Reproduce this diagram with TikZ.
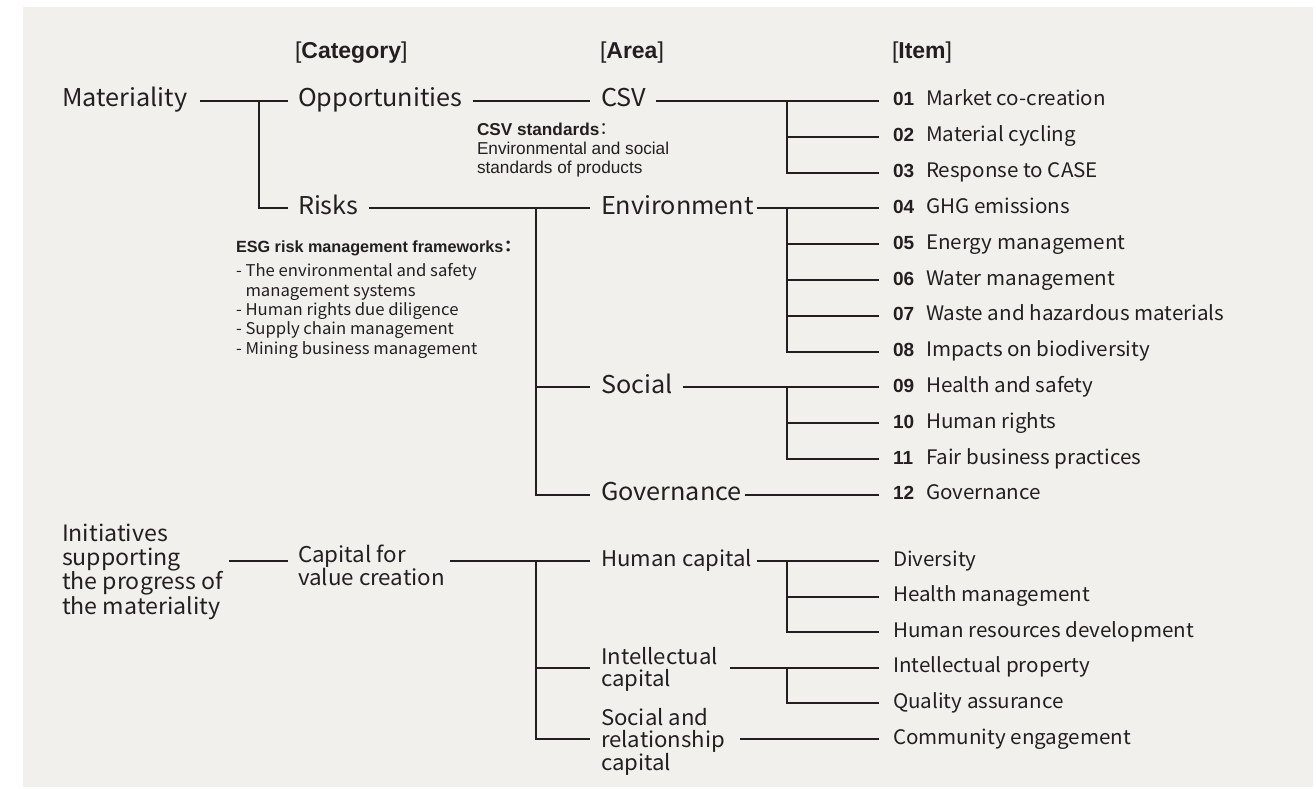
\documentclass[tikz,border=0pt]{standalone}
\usepackage{fontspec}
\usetikzlibrary{calc}
\setmainfont[FakeStretch=1.03]{Noto Sans CJK JP}
\newfontfamily\arial{Liberation Sans}
\newfontfamily\cjk{Noto Sans CJK JP}
\definecolor{ink}{HTML}{231F20}
\definecolor{bg}{HTML}{F1F0ED}
\newcommand{\num}[1]{\makebox[33pt][l]{\arial\bfseries\fontsize{19}{22}\selectfont #1}}
\newcommand{\fcolon}{{\cjk\kern-0.2em：}}
\begin{document}
\begin{tikzpicture}[x=1pt,y=-1pt,
  every node/.style={inner sep=0pt,outer sep=0pt,text=ink},
  lbl/.style={anchor=west,text height=11.4pt,text depth=0pt,font=\fontsize{24.5}{28}\selectfont},
  itm/.style={anchor=west,text height=10pt,text depth=0pt,font=\fontsize{20}{24}\selectfont},
  lowl/.style={anchor=west,align=left,font=\fontsize{21.5}{22.5}\selectfont},
  hdr/.style={anchor=base west,font=\arial\fontsize{23}{27}\selectfont},
  note/.style={anchor=west,align=left,font=\arial\fontsize{17.2}{18.6}\selectfont},
  conn/.style={draw=ink,line width=2pt}]
\useasboundingbox (0,0) rectangle (1316,789);
\fill[bg] (23,7) rectangle (1313,787);
% headers
\node[hdr] (hcat) at (295,59) {[\textbf{Category}]};
\node[hdr] (harea) at (600,59) {[\textbf{Area}]};
\node[hdr] (hitem) at (892,59) {[\textbf{Item}]};
% items
\foreach \n/\t [count=\k from 0] in {01/Market co-creation,02/Material cycling,03/Response to CASE,04/GHG emissions,05/Energy management,06/Water management,07/Waste and hazardous materials,08/Impacts on biodiversity,09/Health and safety,10/Human rights,11/Fair business practices,12/Governance}
  \node[itm] (i\n) at (893,101+35.8*\k) {\num{\n}\t};
\foreach \t [count=\k from 0] in {Diversity,Health management,Human resources development,Intellectual property,Quality assurance,Community engagement}
  \node[itm] (d\k) at (893,561+35.6*\k) {\t};
% upper tree
\node[lbl] (mat) at (62,0 |- i01.west) {Materiality};
\node[lbl] (opp) at (298,0 |- i01.west) {Opportunities};
\node[lbl] (risk) at (298,0 |- i04.west) {Risks};
\node[lbl] (csv) at (601,0 |- i01.west) {CSV};
\node[lbl] (env) at (601,0 |- i04.west) {Environment};
\node[lbl] (soc) at (601,0 |- i09.west) {Social};
\node[lbl] (gov) at (601,0 |- i12.west) {Governance};
% notes
\node[note] (csvn) at (477,150) {\textbf{CSV standards}\fcolon\\Environmental and social\\standards of products};
\node[anchor=west,font=\arial\bfseries\fontsize{16.2}{19}\selectfont] (esgh) at (236,248) {ESG risk management frameworks\fcolon};
\node[anchor=west,align=left,font=\fontsize{16.2}{19.3}\selectfont] (esgl) at (236,311) {- The environmental and safety\\\phantom{- }management systems\\- Human rights due diligence\\- Supply chain management\\- Mining business management};
% lower tree
\node[lowl,font=\fontsize{22.5}{23.3}\selectfont] (init) at (62,572) {Initiatives\\supporting\\the progress of\\the materiality};
\node[lowl,font=\fontsize{21.7}{22}\selectfont] (cap) at (298,565) {Capital for\\value creation};
\node[lbl,font=\fontsize{21.5}{24}\selectfont] (hum) at (601,0 |- d0.west) {Human capital};
\node[lowl] (int) at (601,669.5) {Intellectual\\capital};
\node[lowl] (socr) at (601,741.5) {Social and\\relationship\\capital};
% junction coordinates
\coordinate (jm) at (259,0 |- i01.west);
\coordinate (jr) at (536,0 |- i04.west);
\coordinate (jc) at (536,0 |- d0.west);
\coordinate (jx) at (787,0);
% upper connectors
\draw[conn] ([xshift=13pt]mat.east) -- ([xshift=-10pt]opp.west);
\draw[conn] (jm) |- ([xshift=-10pt]risk.west);
\draw[conn] ([xshift=10pt]opp.east) -- ([xshift=-11pt]csv.west);
\draw[conn] ([xshift=10pt]risk.east) -- ([xshift=-11pt]env.west);
\draw[conn] (jr) |- ([xshift=-11pt]gov.west);
\draw[conn] (jr |- soc.west) -- ([xshift=-11pt]soc.west);
\draw[conn] ([xshift=10pt]csv.east) -- ([xshift=-14pt]i01.west);
\draw[conn] ([xshift=3pt]env.east) -- ([xshift=-14pt]i04.west);
\draw[conn] ([xshift=10pt]soc.east) -- ([xshift=-14pt]i09.west);
\draw[conn] ([xshift=3pt]gov.east) -- ([xshift=-14pt]i12.west);
\draw[conn] (jx |- i01.west) |- ([xshift=-14pt]i03.west);
\draw[conn] (jx |- i04.west) |- ([xshift=-14pt]i08.west);
\draw[conn] (jx |- i09.west) |- ([xshift=-14pt]i11.west);
\foreach \a in {02,05,06,07,10}
  \draw[conn] (jx |- i\a.west) -- ([xshift=-14pt]i\a.west);
% lower connectors
\coordinate (ie) at ($(init.east)+(6,0)$);
\coordinate (cw) at ($(cap.west)+(-10,0)$);
\draw[conn] (ie |- d0.west) -- (cw |- d0.west);
\coordinate (ce) at ($(cap.east)+(5,0)$);
\draw[conn] (ce |- d0.west) -- ([xshift=-11pt]hum.west);
\coordinate (iw) at ($(int.west)+(-11,0)$);
\coordinate (sw) at ($(socr.west)+(-11,0)$);
\draw[conn] (jc) |- (sw |- d5.west);
\draw[conn] (jc |- d3.west) -- (iw |- d3.west);
\draw[conn] ([xshift=5pt]hum.east) -- ([xshift=-14pt]d0.west);
\coordinate (ine) at ($(int.east)+(12,0)$);
\draw[conn] (ine |- d3.west) -- ([xshift=-14pt]d3.west);
\coordinate (se) at ($(socr.east)+(15,0)$);
\draw[conn] (se |- d5.west) -- ([xshift=-14pt]d5.west);
\draw[conn] (jx |- d0.west) |- ([xshift=-14pt]d2.west);
\draw[conn] (jx |- d1.west) -- ([xshift=-14pt]d1.west);
\draw[conn] (jx |- d3.west) |- ([xshift=-14pt]d4.west);
\end{tikzpicture}
\end{document}
